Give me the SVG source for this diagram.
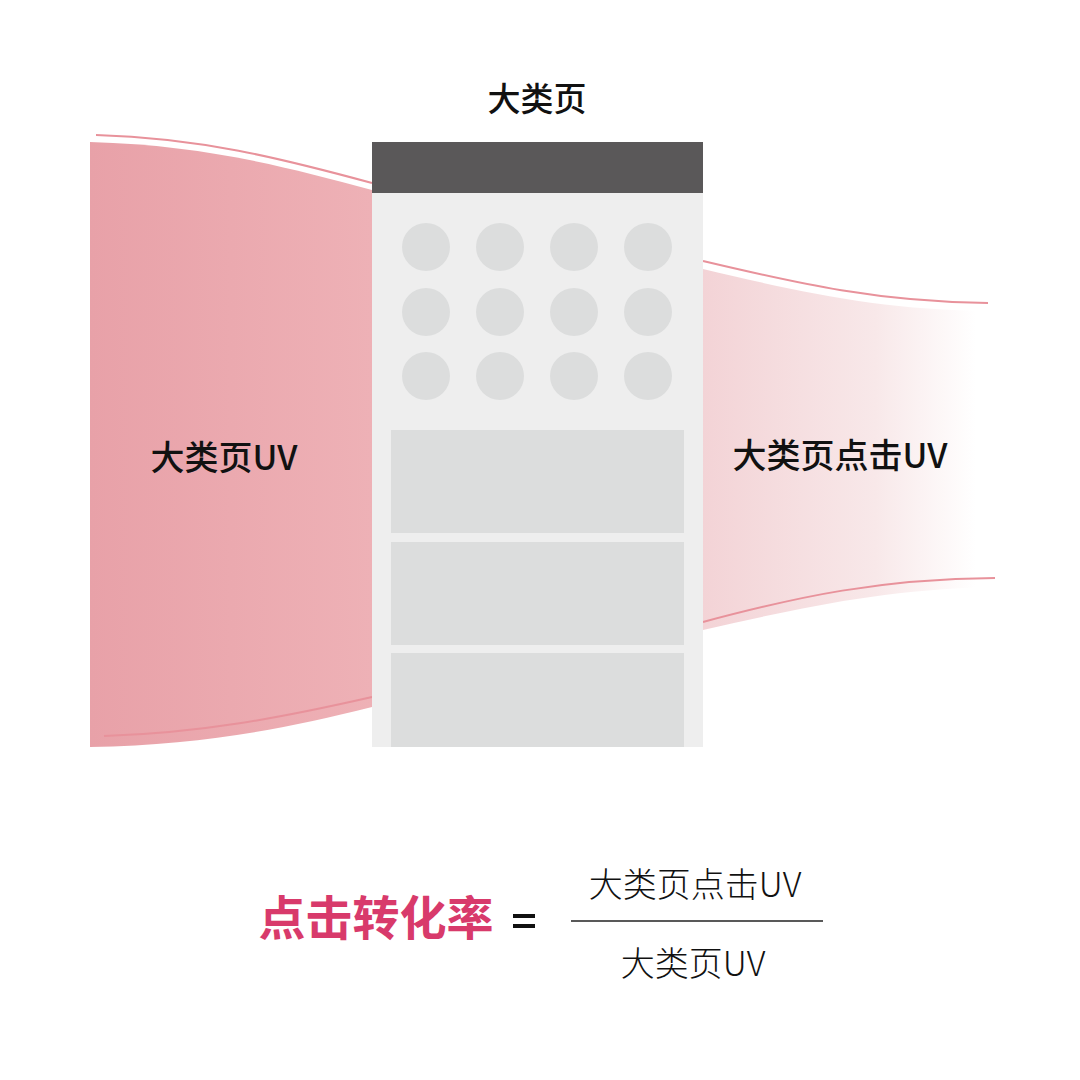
<svg xmlns="http://www.w3.org/2000/svg" width="1080" height="1080" viewBox="0 0 1080 1080">
<defs>
<linearGradient id="gl" x1="0" y1="0" x2="1" y2="0"><stop offset="0" stop-color="#e8a1a8"/><stop offset="1" stop-color="#eeb1b6"/></linearGradient>
<linearGradient id="gr" x1="0" y1="0" x2="1" y2="0"><stop offset="0" stop-color="#f3d3d6"/><stop offset="0.6" stop-color="#f8e8e9"/><stop offset="0.95" stop-color="#ffffff"/></linearGradient>
<style>
.t{font-family:"Noto Sans CJK SC","Noto Sans",sans-serif;fill:#111}
.ln{fill:none;stroke:#e8929b;stroke-width:2}
.c{fill:#dcdddd}
</style>
</defs>
<rect width="1080" height="1080" fill="#fff"/>
<g id="flow-left">
<path d="M90,142 C200,145 280,165 372,190 L372,707 C280,730 200,745 90,747 Z" fill="url(#gl)"/>
<path class="ln" d="M96,135 C200,138 280,158 372,183"/>
<path class="ln" d="M104,736 C200,733 280,718 372,697"/>
</g>
<g id="flow-right">
<path d="M703,269 C800,292 880,310 990,311 L990,587 C880,590 800,608 703,630 Z" fill="url(#gr)"/>
<path class="ln" d="M703,261 C800,284 880,302 988,303"/>
<path class="ln" d="M703,622 C800,596 880,579 995,578"/>
</g>
<g id="page">
<rect x="372" y="193" width="331" height="554" fill="#eeeeee"/>
<rect x="372" y="142" width="331" height="51" fill="#5a5859"/>
<circle class="c" cx="426" cy="247" r="24"/><circle class="c" cx="500" cy="247" r="24"/><circle class="c" cx="574" cy="247" r="24"/><circle class="c" cx="648" cy="247" r="24"/>
<circle class="c" cx="426" cy="312" r="24"/><circle class="c" cx="500" cy="312" r="24"/><circle class="c" cx="574" cy="312" r="24"/><circle class="c" cx="648" cy="312" r="24"/>
<circle class="c" cx="426" cy="376" r="24"/><circle class="c" cx="500" cy="376" r="24"/><circle class="c" cx="574" cy="376" r="24"/><circle class="c" cx="648" cy="376" r="24"/>
<rect class="c" x="391" y="430" width="293" height="103"/>
<rect class="c" x="391" y="542" width="293" height="103"/>
<rect class="c" x="391" y="653" width="293" height="94"/>
</g>
<g id="labels">
<text class="t" x="537" y="111" font-size="33" font-weight="500" text-anchor="middle">大类页</text>
<text class="t" x="224" y="470" font-size="34" font-weight="500" text-anchor="middle">大类页UV</text>
<text class="t" x="840" y="468" font-size="34" font-weight="500" text-anchor="middle">大类页点击UV</text>
</g>
<g id="formula">
<text x="376" y="935" font-size="47" font-weight="700" text-anchor="middle" style="font-family:'Noto Sans CJK SC',sans-serif;fill:#d83a6b">点击转化率</text>
<rect x="513" y="914" width="22" height="4" fill="#111"/>
<rect x="513" y="924" width="22" height="4" fill="#111"/>
<line x1="571" y1="921" x2="823" y2="921" stroke="#222" stroke-width="1.5"/>
<text class="t" x="695" y="897" font-size="34" font-weight="300" text-anchor="middle">大类页点击UV</text>
<text class="t" x="693" y="976" font-size="34" font-weight="300" text-anchor="middle">大类页UV</text>
</g>
</svg>
